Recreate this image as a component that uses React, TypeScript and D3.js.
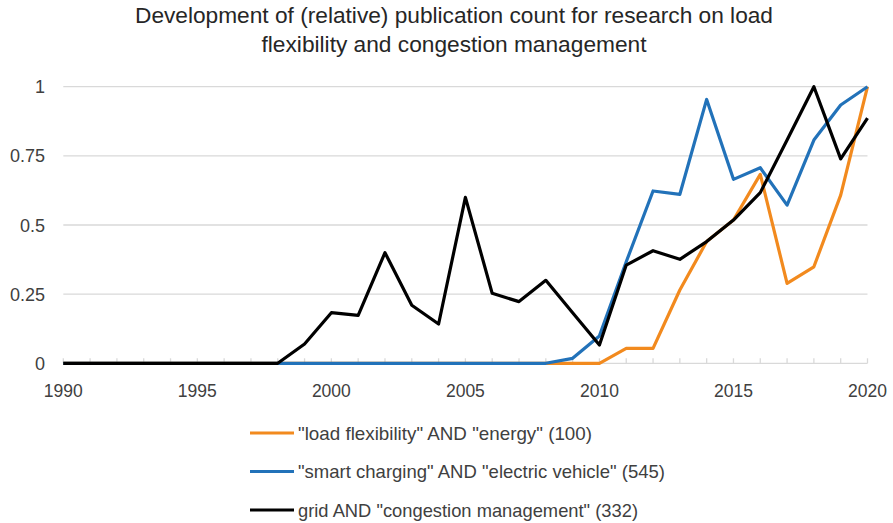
import React from 'react';
import * as d3 from 'd3';

const years = d3.range(1990, 2021);

const loadFlex = [0, 0, 0, 0, 0, 0, 0, 0, 0, 0, 0, 0, 0, 0, 0, 0, 0, 0, 0, 0, 0,
  0.054, 0.054, 0.265, 0.44, 0.518, 0.683, 0.289, 0.349, 0.608, 1.0];
const smartCharging = [0, 0, 0, 0, 0, 0, 0, 0, 0, 0, 0, 0, 0, 0, 0, 0, 0, 0, 0, 0.018, 0.099,
  0.367, 0.623, 0.611, 0.954, 0.665, 0.707, 0.572, 0.807, 0.934, 1.0];
const congestion = [0, 0, 0, 0, 0, 0, 0, 0, 0, 0.07, 0.183, 0.173, 0.40, 0.21, 0.142, 0.60,
  0.253, 0.223, 0.30, 0.183, 0.066, 0.355, 0.407, 0.376, 0.44, 0.518, 0.617, 0.807, 1.0, 0.739, 0.886];

const seriesNames = [
  '"load flexibility" AND "energy" (100)',
  '"smart charging" AND "electric vehicle" (545)',
  'grid AND "congestion management" (332)',
];
const seriesColors = ['#F28A1E', '#2272B9', '#000000'];
const yTicks = [0, 0.25, 0.5, 0.75, 1];
const xLabels = [1990, 1995, 2000, 2005, 2010, 2015, 2020];
const titleLines = [
  'Development of (relative) publication count for research on load',
  'flexibility and congestion management',
];
// widths measured on the reference (Calibri-like font is narrower than ours)
const titleWidths = [638, 385];
const legendWidths = [294, 367, 340];

const W = 893;
const H = 523;
const font = 'Liberation Sans, Arial, sans-serif';

export default function App() {
  const x = d3.scaleLinear().domain([1990, 2020]).range([63.3, 867.5]);
  const y = d3.scaleLinear().domain([0, 1]).range([363.3, 86.7]);
  const series = [loadFlex, smartCharging, congestion];
  const line = d3.line<number>().x((_, i) => x(years[i])).y(d => y(d));

  return (
    <div style={{ position: 'absolute', left: 0, top: 0 }}>
      <svg width={W} height={H} style={{ display: 'block', background: '#fff' }}>
        {titleLines.map((t, i) => (
          <text key={i} x={454} y={23 + i * 29} textAnchor="middle" fontFamily={font} fontSize={22}
            textLength={titleWidths[i]} lengthAdjust="spacingAndGlyphs" fill="#262626">{t}</text>
        ))}
        {yTicks.map(t => (
          <g key={t}>
            <line x1={x(1990)} x2={x(2020)} y1={y(t)} y2={y(t)} stroke="#d9d9d9" strokeWidth={1.3} />
            <text x={45} y={y(t) + 6.5} textAnchor="end" fontFamily={font} fontSize={18} fill="#404040">{t}</text>
          </g>
        ))}
        {years.map(yr => (
          <line key={yr} x1={x(yr)} x2={x(yr)} y1={y(0)} y2={y(0) - 5} stroke="#d9d9d9" strokeWidth={1.3} />
        ))}
        {xLabels.map(v => (
          <text key={v} x={x(v)} y={396.5} textAnchor="middle" fontFamily={font} fontSize={17.5} fill="#404040">{v}</text>
        ))}
        {series.map((s, i) => (
          <path key={i} d={line(s) || ''} fill="none" stroke={seriesColors[i]} strokeWidth={3.2} strokeLinejoin="round" />
        ))}
        {seriesNames.map((n, i) => {
          const ly = 433 + i * 38.5;
          return (
            <g key={i}>
              <line x1={250} x2={294} y1={ly} y2={ly} stroke={seriesColors[i]} strokeWidth={3.2} />
              <text x={298} y={ly + 6.5} fontFamily={font} fontSize={18.5}
                textLength={legendWidths[i]} lengthAdjust="spacingAndGlyphs" fill="#404040">{n}</text>
            </g>
          );
        })}
      </svg>
    </div>
  );
}
